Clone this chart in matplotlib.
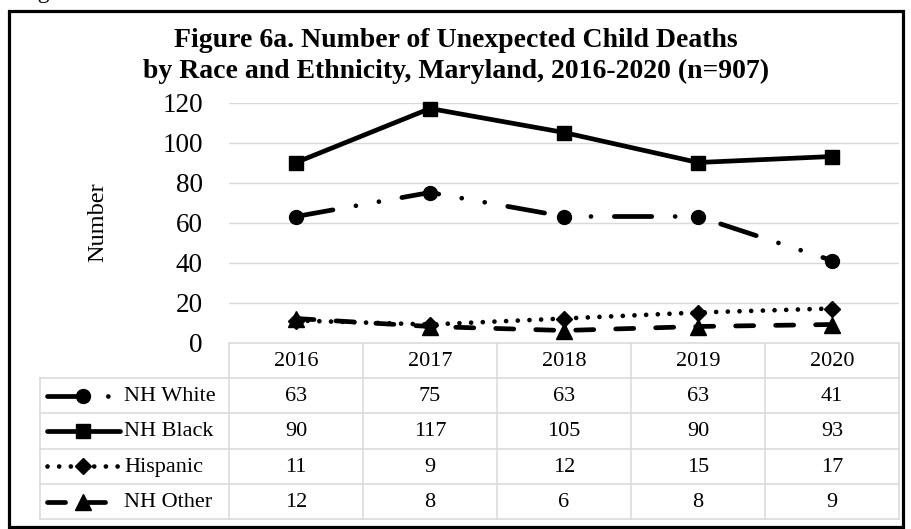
import matplotlib
matplotlib.use("Agg")
import matplotlib.pyplot as plt
from matplotlib.lines import Line2D
from matplotlib.patches import Rectangle

# ---- data ----
years = ["2016", "2017", "2018", "2019", "2020"]
series_names = ["NH White", "NH Black", "Hispanic", "NH Other"]
nh_white = [63, 75, 63, 63, 41]
nh_black = [90, 117, 105, 90, 93]
hispanic = [11, 9, 12, 15, 17]
nh_other = [12, 8, 6, 8, 9]
y_ticks = [0, 20, 40, 60, 80, 100, 120]
title = ("Figure 6a. Number of Unexpected Child Deaths\n"
         "by Race and Ethnicity, Maryland, 2016-2020 (n=907)")
y_label = "Number"

# ---- figure setup (pixel based layout) ----
W, H, DPI = 912, 529, 100
plt.rcParams["font.family"] = ["Liberation Serif", "DejaVu Serif"]
plt.rcParams["lines.scale_dashes"] = False
PT = 72 / DPI  # points per pixel

fig = plt.figure(figsize=(W / DPI, H / DPI), dpi=DPI)
fig.patch.set_facecolor("white")

# full-figure overlay in pixel coordinates (y downwards)
ov = fig.add_axes([0, 0, 1, 1], zorder=0)
ov.set_xlim(0, W)
ov.set_ylim(H, 0)
ov.axis("off")

# plot area
PL, PR, P_TOP, PB = 229, 899, 102.5, 342.5
ax = fig.add_axes([PL / W, 1 - PB / H, (PR - PL) / W, (PB - P_TOP) / H], zorder=2)
ax.patch.set_alpha(0)
ax.set_xlim(-0.5, len(years) - 0.5)
ax.set_ylim(0, 120)
for s in ax.spines.values():
    s.set_visible(False)
ax.set_xticks([])
ax.set_yticks(y_ticks)
ax.tick_params(axis="y", length=0, pad=26 * PT, labelsize=19.5)
for t in y_ticks[1:]:
    ax.axhline(t, color="#d9d9d9", lw=1.0, zorder=0)

LW = 3.4
styles = {
    "NH White": dict(linestyle=(0, (27.0, 16.8, 0.01, 16.8, 0.01, 16.8)),
                     marker="o", ms=10),
    "NH Black": dict(linestyle="-", marker="s", ms=10),
    "Hispanic": dict(linestyle=(0, (0.01, 8.4)), marker="D", ms=8.5),
    "NH Other": dict(linestyle=(0, (13.0, 15.8)), marker="^", ms=11),
}
series = dict(zip(series_names, [nh_white, nh_black, hispanic, nh_other]))
xs = list(range(len(years)))
for name in series_names:
    st = styles[name]
    ax.plot(xs, series[name], color="black", lw=LW, dash_capstyle="round",
            solid_capstyle="round", solid_joinstyle="round",
            mfc="black", mec="black", clip_on=False, zorder=3, **st)

# y axis title
ov.text(98, 222, y_label, rotation=90, ha="center", va="center", fontsize=17.5)

# chart title
ov.text(456, 56, title, ha="center", va="center", fontsize=20,
        fontweight="bold", linespacing=1.3)

# ---- data table ----
grid_c = "#d9d9d9"
glw = 1.1
TL = 40
col_w = (PR - PL) / len(years)
row_tops = [342.5 + i * 35.35 for i in range(len(series_names) + 2)]

ov.plot([PL, PR], [row_tops[0]] * 2, color=grid_c, lw=glw)
for yv in row_tops[1:]:
    ov.plot([TL, PR], [yv] * 2, color=grid_c, lw=glw)
for k in range(len(years) + 1):
    xv = PL + k * col_w
    ov.plot([xv, xv], [row_tops[0], row_tops[-1]], color=grid_c, lw=glw)
ov.plot([TL, TL], [row_tops[1], row_tops[-1]], color=grid_c, lw=glw)

TFS = 16
for k, yr in enumerate(years):
    ov.text(PL + (k + 0.5) * col_w, (row_tops[0] + row_tops[1]) / 2 + 1, yr,
            ha="center", va="center", fontsize=TFS)

for r, name in enumerate(series_names):
    yc = (row_tops[r + 1] + row_tops[r + 2]) / 2
    for k, v in enumerate(series[name]):
        ov.text(PL + (k + 0.5) * col_w, yc + 1, str(v),
                ha="center", va="center", fontsize=TFS)
    st = styles[name]
    ov.add_line(Line2D([47, 83.5, 120], [yc, yc, yc], color="black", lw=LW,
                       dash_capstyle="round", solid_capstyle="round",
                       mfc="black", mec="black", markevery=[1], **st))
    ov.text(124, yc + 1, name, ha="left", va="center", fontsize=TFS)

# outer frame
ov.add_patch(Rectangle((9, 10.5), 894.5, 516.5, fill=False, ec="black",
                       lw=2.3, clip_on=False))

# caption fragment at the top edge
ov.text(18, -2, "Figure", ha="left", va="baseline", fontsize=17,
        clip_on=False)

fig.savefig("out.png", dpi=DPI, facecolor="white")
